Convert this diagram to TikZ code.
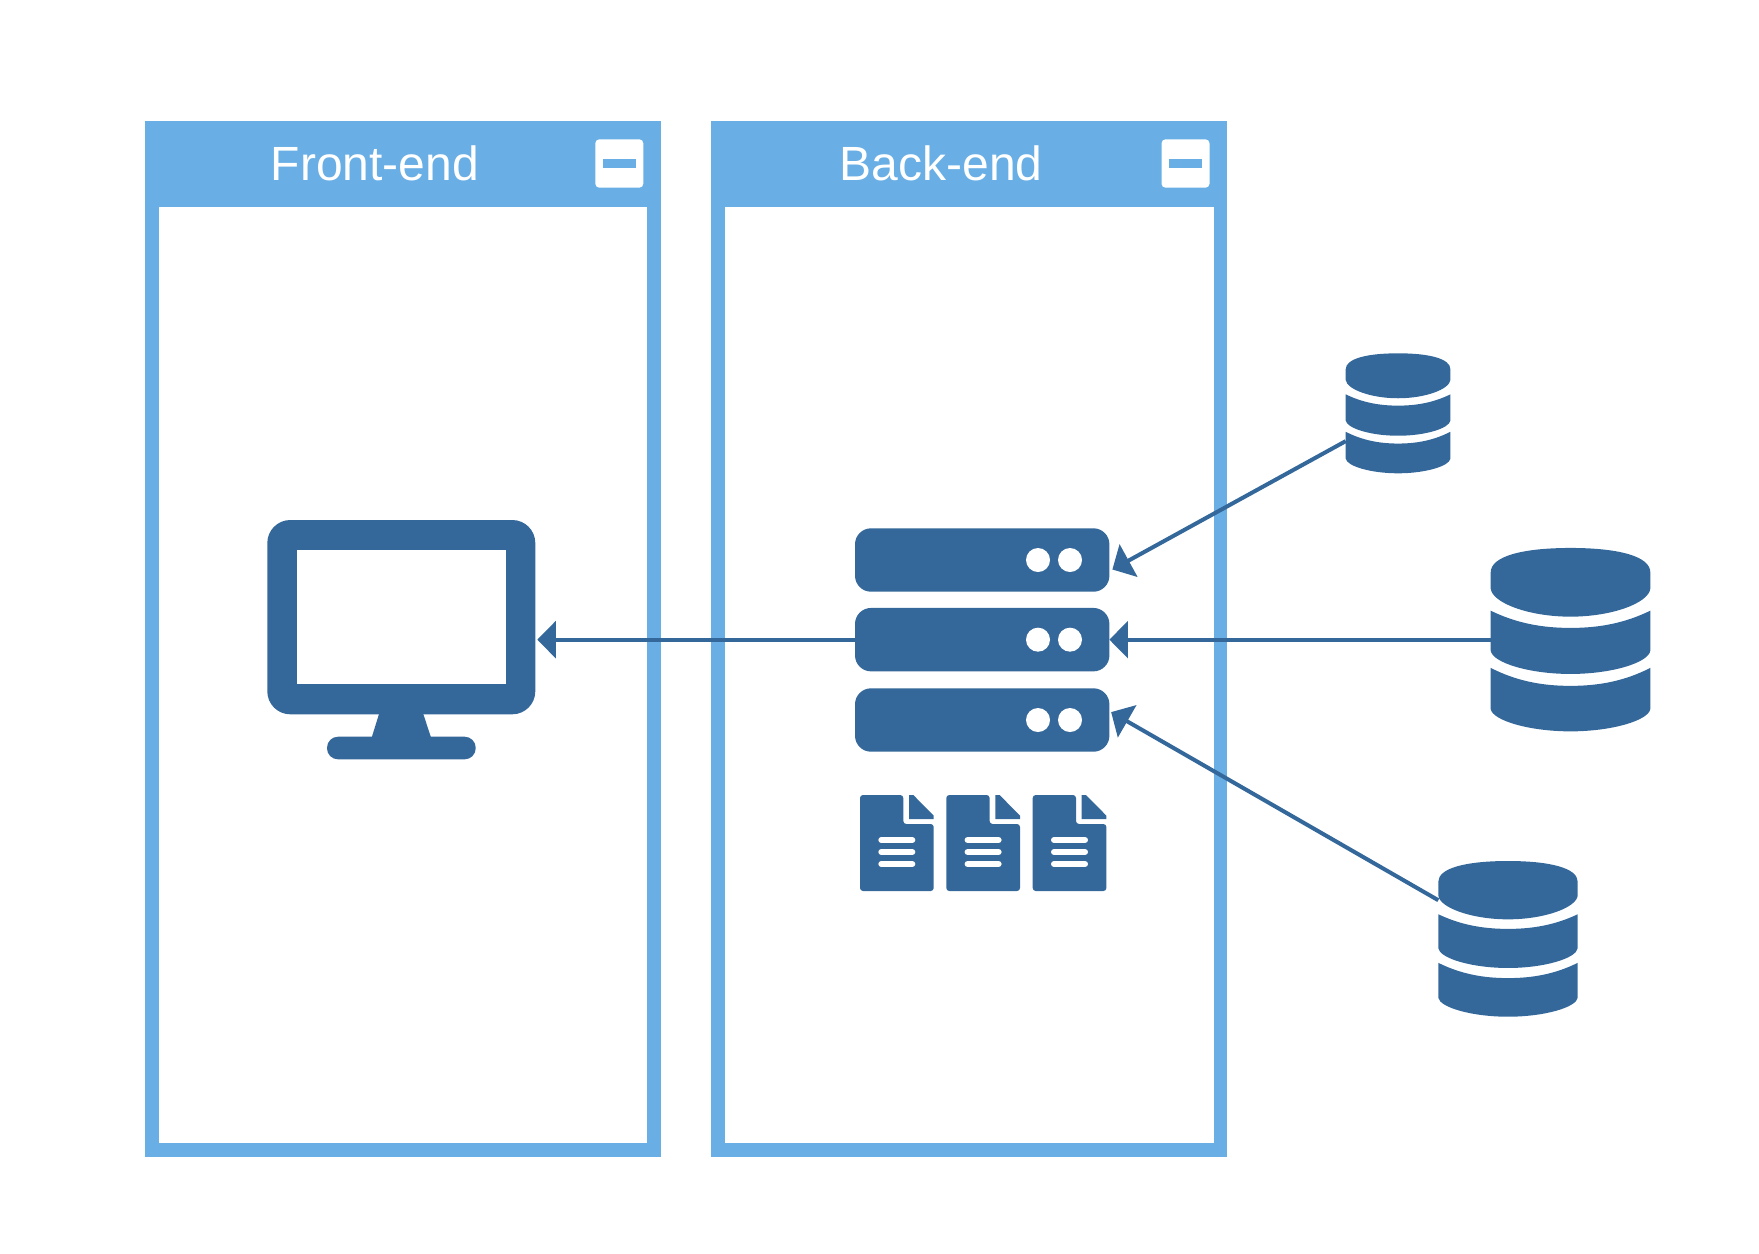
\documentclass[tikz,border=0pt]{standalone}
\usepackage{fontspec}
\setmainfont{Liberation Sans}
\usetikzlibrary{arrows.meta,calc}
\definecolor{panelblue}{HTML}{69AFE5}
\definecolor{icondark}{HTML}{34689B}
\tikzset{
  box/.style={inner sep=0pt,outer sep=0pt,rectangle},
  panelbox/.style={box,fill=panelblue,minimum width=258pt,minimum height=518pt},
  innerbox/.style={box,fill=white,minimum width=244.3pt,minimum height=468pt},
  btnbox/.style={box,fill=white,rounded corners=2pt,minimum width=24pt,minimum height=24.2pt},
  minusbar/.style={box,fill=panelblue,minimum width=16.6pt,minimum height=4.2pt},
  title/.style={inner sep=0pt,outer sep=0pt,anchor=base,text=white,font=\fontsize{24pt}{28pt}\selectfont},
  server/.style={box,fill=icondark,rounded corners=8pt,minimum width=127.2pt,minimum height=31.7pt},
  led/.style={circle,inner sep=0pt,outer sep=0pt,fill=white,minimum size=12pt},
  anchorbox/.style={box},
  link/.style={draw=icondark,line width=2pt,-{Triangle[length=9.25pt,width=18.3pt]}}
}
% #1 name, #2 left, #3 top, #4 width, #5 height (px)
\newcommand{\dbicon}[5]{%
  \node[anchorbox,minimum width=#4*0.5pt,minimum height=#5*0.5pt] (#1) at ({#2+#4/2},{#3+#5/2}) {};
  \begin{scope}[shift={(#2,#3)},x=#4*0.5pt,y=-#5*0.5pt]
    \fill[icondark] (0,.133) .. controls (0,.045) and (.2,0) .. (.5,0)
      .. controls (.8,0) and (1,.045) .. (1,.133) -- (1,.222)
      .. controls (.99,.30) and (.76,.3746) .. (.5,.3746)
      .. controls (.24,.3746) and (.01,.30) .. (0,.222) -- cycle;
    \fill[icondark] (0,.342) .. controls (.16,.41) and (.32,.436) .. (.5,.436)
      .. controls (.68,.436) and (.84,.41) .. (1,.342) -- (1,.56)
      .. controls (.99,.625) and (.76,.687) .. (.5,.687)
      .. controls (.24,.687) and (.01,.625) .. (0,.56) -- cycle;
    \fill[icondark] (0,.654) .. controls (.16,.725) and (.32,.752) .. (.5,.752)
      .. controls (.68,.752) and (.84,.725) .. (1,.654) -- (1,.878)
      .. controls (.99,.94) and (.76,1) .. (.5,1)
      .. controls (.24,1) and (.01,.94) .. (0,.878) -- cycle;
  \end{scope}}
% #1 left, #2 top (px)
\newcommand{\docicon}[2]{%
  \begin{scope}[shift={(#1,#2)}]
    \fill[icondark,rounded corners=1.5pt] (0,0) -- (43.3,0) -- (43.3,29) -- (73.7,29) -- (73.7,96) -- (0,96) -- cycle;
    \fill[icondark] (49,0) -- (53.3,0) -- (73.7,20.7) -- (73.7,24) -- (49,24) -- cycle;
    \draw[white,line width=3pt,line cap=round] (21.3,45) -- (52.3,45) (21.3,57) -- (52.3,57) (21.3,69) -- (52.3,69);
  \end{scope}}
\begin{document}
\begin{tikzpicture}[x=0.5pt,y=-0.5pt]
\useasboundingbox (0,0) rectangle (1759,1253);
% panels
\node[panelbox] (front) at (403,639.25) {};
\node[innerbox] (frontin) at (403,675.4) {};
\node[title] (fronttitle) at (375,180) {Front-end};
\node[btnbox] (frontbtn) at (619.3,163.5) {};
\node[minusbar] (frontminus) at (619.3,163.5) {};
\node[panelbox] (back) at (969,639.25) {};
\node[innerbox] (backin) at (969.4,675.4) {};
\node[title] (backtitle) at (941,180) {Back-end};
\node[btnbox] (backbtn) at (1185.5,163.5) {};
\node[minusbar] (backminus) at (1185.5,163.5) {};
% monitor
\node[anchorbox,minimum width=134pt,minimum height=119.65pt] (mon) at (401.3,639.65) {};
\fill[icondark,rounded corners=11.5pt] (267.3,520) rectangle (535.3,714.3);
\fill[white] (297,550) rectangle (505.7,684.3);
\fill[icondark] (379,714) -- (423.3,714) -- (431,737.5) -- (371.7,737.5) -- cycle;
\fill[icondark,rounded corners=5.5pt] (327,736.7) rectangle (475.7,759.3);
% servers
\node[server] (srvA) at (982.2,560) {};
\node[server] (srvB) at (982.2,639.65) {};
\node[server] (srvC) at (982.2,720) {};
\foreach \n/\yy in {A/560,B/639.65,C/720}{
  \node[led] (led\n a) at (1038,\yy) {};
  \node[led] (led\n b) at (1070,\yy) {};
}
% documents
\docicon{860}{795}
\docicon{946.3}{795}
\docicon{1032.7}{795}
% databases
\dbicon{dbA}{1345.7}{353.3}{104.7}{120}
\dbicon{dbB}{1490.7}{547.95}{159.6}{183.4}
\dbicon{dbC}{1438.3}{861}{139.4}{155.7}
% connectors
\draw[link,shorten >=1pt] (srvB.west) -- (mon.east);
\draw[link] (dbB.west) -- (srvB.east);
\draw[link,shorten >=1.7pt] (dbA.208.5) -- (srvA.355.5);
\draw[link,shorten >=1pt] (dbC.151) -- (srvC.4.4);
\end{tikzpicture}
\end{document}
